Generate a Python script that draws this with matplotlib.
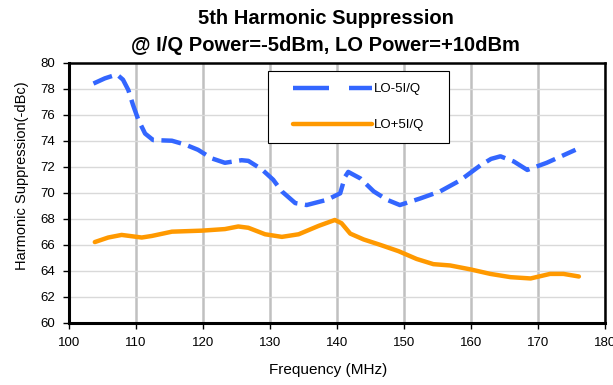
import matplotlib.pyplot as plt
from matplotlib.lines import Line2D
from matplotlib.patches import Rectangle

plt.rcParams["font.family"] = ["Liberation Sans", "DejaVu Sans"]

# ----- Data -----
freq_lo_minus = [103.7, 105.4, 107.2, 108.1, 108.9, 109.6, 110.4, 111.4, 112.6,
                 115.4, 117.4, 119.3, 121.3, 123.3, 125.8, 126.8, 128.8, 130.5,
                 131.8, 133.8, 135.5, 138.5, 140.5, 141.2, 141.7, 143.5, 145.5,
                 147.5, 149.4, 152.4, 155.4, 158.4, 161.4, 163.0, 164.4, 166.4,
                 168.4, 171.3, 175.6]
supp_lo_minus = [78.4, 78.8, 79.1, 78.7, 77.9, 76.75, 75.6, 74.55, 74.05,
                 74.0, 73.7, 73.3, 72.65, 72.3, 72.5, 72.45, 71.8, 71.0,
                 70.1, 69.2, 69.05, 69.45, 69.95, 71.2, 71.6, 71.1, 70.1,
                 69.45, 69.05, 69.55, 70.1, 70.95, 72.1, 72.6, 72.8, 72.4,
                 71.75, 72.3, 73.3]

freq_lo_plus = [103.9, 105.9, 107.9, 109.1, 110.9, 112.4, 115.4, 119.9, 123.3,
                125.3, 126.8, 129.3, 131.8, 134.3, 137.3, 139.7, 140.7, 142.0,
                144.0, 146.5, 149.2, 151.9, 154.4, 156.9, 159.9, 162.9, 165.9,
                168.9, 171.8, 173.8, 176.1]
supp_lo_plus = [66.2, 66.55, 66.75, 66.67, 66.55, 66.67, 67.0, 67.08, 67.2,
                67.4, 67.3, 66.8, 66.6, 66.8, 67.45, 67.9, 67.65, 66.85,
                66.4, 65.98, 65.5, 64.9, 64.5, 64.4, 64.1, 63.75, 63.5,
                63.4, 63.75, 63.75, 63.55]

series_labels = ["LO-5I/Q", "LO+5I/Q"]
x_ticks = list(range(100, 181, 10))
y_ticks = list(range(60, 81, 2))

BLUE = "#3366FF"
ORANGE = "#FF9900"


def main():
    fig = plt.figure(figsize=(6.13, 3.85), dpi=100)
    ax = fig.add_axes([0.112, 0.162, 0.875, 0.675])

    ax.plot(freq_lo_minus, supp_lo_minus, color=BLUE, lw=3.2,
            dashes=(4.5, 1.7), solid_capstyle="butt", zorder=3)
    ax.plot(freq_lo_plus, supp_lo_plus, color=ORANGE, lw=3.2,
            solid_capstyle="round", solid_joinstyle="round", zorder=3)

    ax.set_xlim(x_ticks[0], x_ticks[-1])
    ax.set_ylim(y_ticks[0], y_ticks[-1])
    ax.set_xticks(x_ticks)
    ax.set_yticks(y_ticks)

    # grid: heavy vertical, light horizontal
    ax.grid(axis="x", color="#c0c0c0", lw=1.8, zorder=0)
    ax.grid(axis="y", color="#d9d9d9", lw=1.0, zorder=0)
    ax.set_axisbelow(True)

    for side in ["left", "bottom"]:
        ax.spines[side].set_linewidth(2.2)
    for side in ["top", "right"]:
        ax.spines[side].set_linewidth(1.8)

    ax.tick_params(axis="both", direction="out", length=4, width=1,
                   labelsize=9.5, colors="black")
    ax.tick_params(axis="x", pad=6)
    ax.tick_params(axis="y", pad=6)

    ax.set_xlabel("Frequency (MHz)", fontsize=11)
    ax.set_ylabel("Harmonic Suppression(-dBc)", fontsize=10.5)
    ax.xaxis.set_label_coords(0.483, -0.155)
    ax.yaxis.set_label_coords(-0.074, 0.564)

    fig.text(0.531, 0.953, "5th Harmonic Suppression", ha="center",
             va="center", fontsize=14.5, fontweight="bold")
    fig.text(0.531, 0.881, "@ I/Q Power=-5dBm, LO Power=+10dBm", ha="center",
             va="center", fontsize=14.5, fontweight="bold")

    handles = [
        Line2D([], [], color=BLUE, lw=3.2, dashes=(8.1, 4.5)),
        Line2D([], [], color=ORANGE, lw=3.2, solid_capstyle="round"),
    ]
    leg = ax.legend(handles, series_labels, loc="upper left",
                    bbox_to_anchor=(0.396, 0.968), fontsize=9.5,
                    handlelength=6.0, handletextpad=0.15, labelspacing=1.8,
                    borderpad=0.9, frameon=False, borderaxespad=0)
    leg.set_zorder(6)

    # Excel-style legend frame: wider horizontal padding than vertical
    fig.canvas.draw()
    bb = leg.get_window_extent()
    frame = Rectangle((bb.x0 - 13, bb.y0), bb.width + 26, bb.height,
                      transform=None, facecolor="white", edgecolor="black",
                      lw=0.8, zorder=5, clip_on=False)
    ax.add_artist(frame)

    fig.savefig("out.png", dpi=100)


if __name__ == "__main__":
    main()
